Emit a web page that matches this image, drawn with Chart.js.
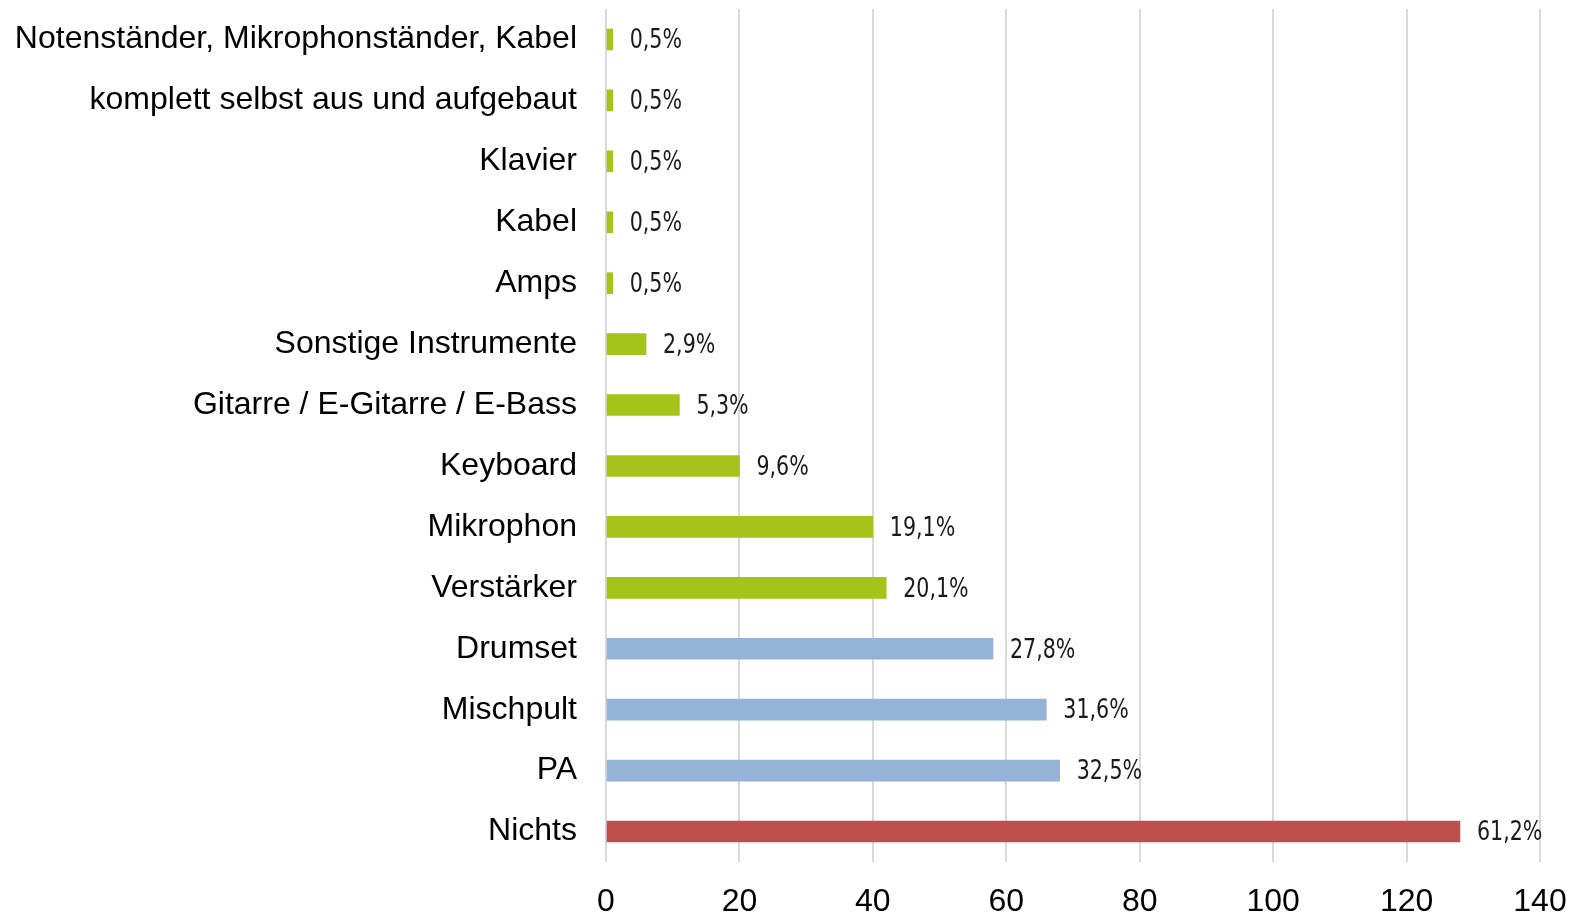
<!DOCTYPE html>
<html>
<head>
<meta charset="utf-8">
<script src="https://cdn.jsdelivr.net/npm/chart.js@4"></script>
<style>
  html, body { margin: 0; padding: 0; background: #fff; }
  #wrap { width: 1577px; height: 915px; }
</style>
</head>
<body>
<div id="wrap"><canvas id="chart" width="1577" height="915"></canvas></div>
<script>
const categories = [
  'Notenständer, Mikrophonständer, Kabel',
  'komplett selbst aus und aufgebaut',
  'Klavier',
  'Kabel',
  'Amps',
  'Sonstige Instrumente',
  'Gitarre / E-Gitarre / E-Bass',
  'Keyboard',
  'Mikrophon',
  'Verstärker',
  'Drumset',
  'Mischpult',
  'PA',
  'Nichts'
];
const counts = [1, 1, 1, 1, 1, 6, 11, 20, 40, 42, 58, 66, 68, 128];
const percentLabels = ['0,5%', '0,5%', '0,5%', '0,5%', '0,5%', '2,9%', '5,3%', '9,6%', '19,1%', '20,1%', '27,8%', '31,6%', '32,5%', '61,2%'];
const barColors = [
  '#a5c41a', '#a5c41a', '#a5c41a', '#a5c41a', '#a5c41a', '#a5c41a', '#a5c41a',
  '#a5c41a', '#a5c41a', '#a5c41a', '#95b3d7', '#95b3d7', '#95b3d7', '#c0504d'
];
const xTicks = [0, 20, 40, 60, 80, 100, 120, 140];

// draws the percentage next to each bar, a bit narrowed
const valueLabels = {
  id: 'valueLabels',
  afterDatasetsDraw(chart) {
    const ctx = chart.ctx;
    const meta = chart.getDatasetMeta(0);
    ctx.save();
    ctx.font = '26px "DejaVu Sans Condensed", "DejaVu Sans"';
    ctx.fillStyle = '#1a1a1a';
    ctx.textBaseline = 'middle';
    ctx.textAlign = 'left';
    meta.data.forEach((bar, i) => {
      ctx.save();
      ctx.translate(bar.x + 17, bar.y + 2);
      ctx.scale(0.88, 1);
      ctx.fillText(percentLabels[i], 0, 0);
      ctx.restore();
    });
    ctx.restore();
  }
};

new Chart(document.getElementById('chart'), {
  type: 'bar',
  data: {
    labels: categories,
    datasets: [{
      data: counts,
      backgroundColor: barColors,
      barThickness: 21
    }]
  },
  options: {
    indexAxis: 'y',
    responsive: false,
    animation: false,
    layout: { padding: { top: 9, right: 37, left: 0, bottom: 0 } },
    plugins: {
      legend: { display: false },
      tooltip: { enabled: false }
    },
    scales: {
      x: {
        min: 0,
        max: 140,
        afterBuildTicks: (scale) => { scale.ticks = xTicks.map(v => ({ value: v })); },
        afterFit: (scale) => {
          scale.height = 53;
          scale.paddingLeft = 0;
          scale.paddingRight = 0;
        },
        grid: { color: '#d9d9d9', lineWidth: 2, drawTicks: false },
        border: { display: false },
        ticks: {
          color: '#000',
          padding: 21,
          font: { family: '"Liberation Sans", Arial', size: 32 }
        }
      },
      y: {
        afterFit: (scale) => {
          scale.width = 606;
          scale.paddingTop = 0;
          scale.paddingBottom = 0;
        },
        grid: { display: false, drawTicks: false },
        border: { display: false },
        ticks: {
          color: '#000',
          padding: 29,
          font: { family: '"Liberation Sans", Arial', size: 32 }
        }
      }
    }
  },
  plugins: [valueLabels]
});
</script>
</body>
</html>
